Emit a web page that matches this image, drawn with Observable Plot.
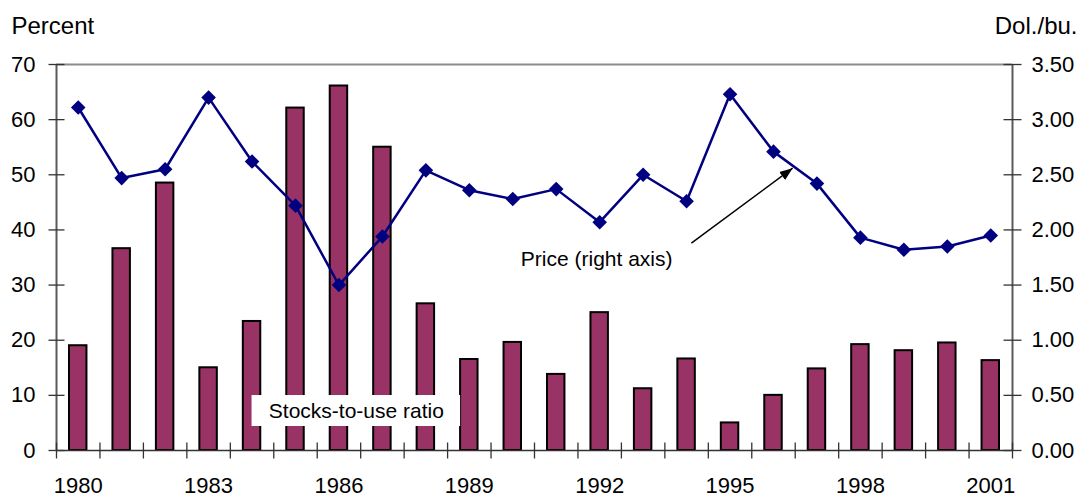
<!DOCTYPE html>
<html>
<head>
<meta charset="utf-8">
<script src="https://cdn.jsdelivr.net/npm/d3@7"></script>
<script src="https://cdn.jsdelivr.net/npm/@observablehq/plot@0.6"></script>
<style>
  html, body { margin: 0; padding: 0; background: #fff; }
  #chart svg { display: block; }
</style>
</head>
<body>
<div id="chart"></div>
<script>
// ---- Data ----
const years = [1980, 1981, 1982, 1983, 1984, 1985, 1986, 1987, 1988, 1989, 1990,
               1991, 1992, 1993, 1994, 1995, 1996, 1997, 1998, 1999, 2000, 2001];
const stocksToUse = [19.0, 36.6, 48.5, 15.0, 23.4, 62.1, 66.1, 55.0, 26.6, 16.5, 19.6,
                     13.8, 25.0, 11.2, 16.6, 5.0, 10.0, 14.8, 19.2, 18.1, 19.5, 16.3];
const price = [3.11, 2.47, 2.55, 3.20, 2.62, 2.22, 1.50, 1.94, 2.54, 2.36, 2.28,
               2.37, 2.07, 2.50, 2.26, 3.23, 2.71, 2.42, 1.93, 1.82, 1.85, 1.95];
const leftTicks = [0, 10, 20, 30, 40, 50, 60, 70];
const rightTicks = [0, 0.5, 1.0, 1.5, 2.0, 2.5, 3.0, 3.5];
const xTickLabels = [1980, 1983, 1986, 1989, 1992, 1995, 1998, 2001];
const leftTitle = "Percent";
const rightTitle = "Dol./bu.";
const stocksLabel = "Stocks-to-use ratio";
const priceLabel = "Price (right axis)";

// ---- Derived ----
const ratio = 70 / 3.5; // left units per right unit
const data = years.map((year, i) => ({year, stocks: stocksToUse[i], price: price[i]}));
const boundaries = years.map(y => y - 0.5).concat([years[years.length - 1] + 0.5]);
const xMin = boundaries[0], xMax = boundaries[boundaries.length - 1];

// Custom symbols
const vTick = {draw(ctx, size) { const h = Math.sqrt(size / Math.PI); ctx.moveTo(0, -h); ctx.lineTo(0, h); }};
const hTick = {draw(ctx, size) { const h = Math.sqrt(size / Math.PI); ctx.moveTo(-h, 0); ctx.lineTo(h, 0); }};
const diamond = {draw(ctx, size) { const h = Math.sqrt(size / Math.PI);
  ctx.moveTo(0, -h); ctx.lineTo(h, 0); ctx.lineTo(0, h); ctx.lineTo(-h, 0); ctx.closePath(); }};

const filledArrow = (color) => {
  const m = d3.create("svg:marker")
    .attr("viewBox", "-10 -5 10 10")
    .attr("markerWidth", 13).attr("markerHeight", 13)
    .attr("markerUnits", "userSpaceOnUse")
    .attr("orient", "auto")
    .attr("fill", "#000").attr("stroke", "none");
  m.append("path").attr("d", "M-10,-3.8L0,0L-10,3.8Z");
  return m.node();
};

const font = "'Liberation Sans', Arial, Helvetica, sans-serif";

const chart = Plot.plot({
  width: 1080,
  height: 497,
  marginLeft: 56,
  marginRight: 68,
  marginTop: 64,
  marginBottom: 47,
  style: {fontFamily: font, fontSize: "22px", color: "#000", background: "#fff", overflow: "visible"},
  x: {type: "linear", domain: [xMin, xMax], label: null},
  y: {domain: [0, 70], label: null},
  marks: [
    // bars
    Plot.rectY(data, {x1: d => d.year - 0.5, x2: d => d.year + 0.5, y: "stocks",
      insetLeft: 13, insetRight: 13, fill: "#993366", stroke: "#000", strokeWidth: 2}),
    // stocks label box
    Plot.rect([stocksLabel], {x1: 1984.0, x2: 1988.8, y1: 4.35, y2: 9.97, fill: "#fff"}),
    Plot.text([stocksLabel], {x: 1986.4, y: 7.1, text: d => d, fontSize: 21, fill: "#000"}),
    // frame lines
    Plot.ruleY([70], {x1: xMin, x2: xMax, stroke: "#8c8c8c", strokeWidth: 2}),
    Plot.ruleX([xMin, xMax], {y1: 0, y2: 70, stroke: "#5a5a5a", strokeWidth: 2}),
    Plot.ruleY([0], {x1: xMin, x2: xMax, stroke: "#333", strokeWidth: 1.5}),
    // tick marks crossing the axes
    Plot.dot(boundaries, {x: d => d, y: 0, symbol: vTick, r: 8, fill: "none", stroke: "#333", strokeWidth: 1.3}),
    Plot.dot(leftTicks, {x: xMin, y: d => d, symbol: hTick, r: 8, fill: "none", stroke: "#333", strokeWidth: 1.3}),
    Plot.dot(rightTicks, {x: xMax, y: d => d * ratio, symbol: hTick, r: 9, fill: "none", stroke: "#333", strokeWidth: 1.3}),
    // price line
    Plot.line(data, {x: "year", y: d => d.price * ratio, stroke: "#000080", strokeWidth: 2.5}),
    Plot.dot(data, {x: "year", y: d => d.price * ratio, symbol: diamond, r: 7.3, fill: "#000080", stroke: "none"}),
    // price annotation
    Plot.text([priceLabel], {x: 1991.93, y: 1.73 * ratio, text: d => d, fontSize: 21, fill: "#000"}),
    Plot.link([priceLabel], {x1: 1994.11, y1: 1.88 * ratio, x2: 1996.44, y2: 2.56 * ratio,
      stroke: "#000", strokeWidth: 1.5, markerEnd: filledArrow}),
    // axes
    Plot.axisY(leftTicks, {anchor: "left", tickSize: 0, tickPadding: 21, fontSize: 22, label: null}),
    Plot.axisY(rightTicks.map(d => d * ratio), {anchor: "right", tickSize: 0, tickPadding: 19, fontSize: 22,
      tickFormat: d => (d / ratio).toFixed(2), label: null}),
    Plot.axisX(xTickLabels, {anchor: "bottom", tickSize: 0, tickPadding: 27, fontSize: 22,
      tickFormat: d => String(d), label: null}),
    // axis titles
    Plot.text([leftTitle], {frameAnchor: "top-left", text: d => d, textAnchor: "start", lineAnchor: "middle",
      dx: -45, dy: -38.5, fontSize: 24}),
    Plot.text([rightTitle], {frameAnchor: "top-right", text: d => d, textAnchor: "end", lineAnchor: "middle",
      dx: 65, dy: -38.5, fontSize: 24})
  ]
});
document.getElementById("chart").appendChild(chart);
</script>
</body>
</html>
